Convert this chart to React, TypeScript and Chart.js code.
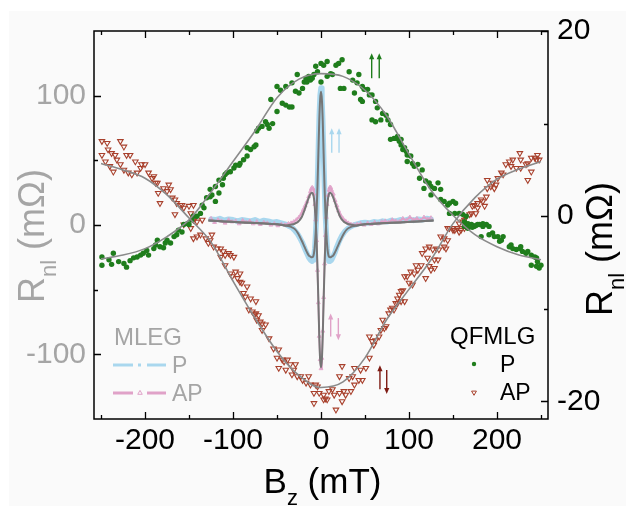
import React, { useEffect, useRef } from "react";
import { Chart, registerables } from "chart.js";

Chart.register(...registerables);

const FONT = "'Liberation Sans', Arial, sans-serif";

// ---------- QFMLG (right axis, mΩ) ----------
const qpB = [
  -249, -249, -241, -238, -236, -230, -224, -221, -217, -213, -209, -205, -202, -198, -196, -190, -188, -186, -183, -179,
  -177, -175, -171, -167, -164, -162, -158, -156, -152, -150, -147, -145, -141, -137, -135, -133, -130, -126, -126, -124,
  -120, -120, -116, -116, -112, -111, -109, -107, -103, -99, -97, -93, -92, -88, -84, -84, -80, -76, -74, -73,
  -71, -67, -63, -61, -59, -57, -55, -50, -50, -46, -44, -40, -40, -36, -33, -33, -29, -27, -25, -21,
  -19, -17, -16, -14, -12, -10, -8, -6, -4, 0, 0, 3, 7, 7, 11, 13, 17, 20, 22, 24,
  26, 32, 36, 38, 41, 43, 45, 47, 47, 49, 53, 55, 58, 58, 62, 62, 64, 68, 70, 74,
  76, 79, 79, 83, 85, 87, 89, 91, 91, 93, 95, 97, 98, 98, 102, 104, 106, 110, 112, 115,
  117, 119, 123, 125, 125, 129, 133, 136, 136, 140, 144, 146, 146, 150, 152, 153, 157, 161, 163, 165,
  167, 171, 174, 178, 184, 188, 191, 163, 167, 172, 176, 180, 182, 184, 191, 195, 197, 201, 203, 205,
  207, 214, 216, 218, 222, 226, 227, 229, 233, 235, 239, 239, 243, 245, 245, 246, 248, 250,
];
const qpR = [
  -4.4, -5.3, -4.7, -5.2, -4.0, -4.9, -5.1, -5.5, -4.8, -4.5, -4.4, -4.2, -4.0, -3.7, -4.2, -3.5, -3.1, -2.6, -3.3, -3.4,
  -2.9, -2.6, -2.9, -2.2, -2.0, -1.5, -1.7, -0.9, -0.8, -0.9, -0.4, 0.0, 0.0, 0.3, 1.2, 0.9, 2.0, 2.1, 2.9, 2.3,
  1.6, 3.2, 2.5, 3.9, 3.4, 4.1, 4.5, 4.7, 4.8, 5.2, 5.5, 5.5, 5.7, 6.1, 6.5, 7.4, 7.2, 7.5, 7.7, 9.2,
  9.5, 9.7, 10.2, 9.9, 9.5, 12.6, 10.0, 11.3, 14.0, 13.6, 12.2, 12.0, 14.0, 11.8, 11.8, 14.4, 13.5, 15.3, 13.3, 13.8,
  14.5, 14.9, 14.5, 15.1, 14.7, 14.9, 15.3, 16.2, 15.6, 16.5, 14.5, 16.3, 16.7, 15.1, 15.4, 15.3, 16.3, 16.5, 13.8, 16.9,
  13.8, 15.6, 14.7, 13.3, 14.4, 15.3, 12.6, 14.0, 12.4, 13.7, 13.7, 13.1, 13.1, 10.4, 12.4, 10.2, 11.7, 10.4, 11.1, 10.9,
  10.4, 9.9, 8.3, 8.4, 8.4, 8.6, 8.1, 8.3, 7.7, 7.2, 7.4, 7.0, 6.6, 5.9, 6.5, 5.7, 5.4, 5.6, 4.1, 5.0,
  3.0, 3.8, 3.6, 3.2, 2.3, 3.0, 3.6, 2.9, 1.8, 1.6, 1.2, 1.4, 0.3, 1.6, 0.3, 1.4, 0.3, 0.2, -0.6, 0.0,
  -0.8, -0.9, -1.1, -0.9, -0.8, -0.9, -1.1, -1.1, -1.3, -1.2, -1.0, -0.9, -2.2, -1.1, -2.0, -1.8, -2.2, -2.2, -2.7, -2.6,
  -2.2, -3.3, -3.1, -3.5, -3.6, -3.5, -3.3, -3.8, -4.0, -3.8, -4.2, -5.3, -4.4, -4.5, -5.4, -4.9, -5.6, -5.3,
];

const qapB = [
  -249, -243, -228, -224, -249, -245, -242, -238, -234, -232, -240, -236, -228, -221, -217, -224, -219, -215, -211, -209,
  -205, -204, -200, -196, -192, -190, -188, -186, -185, -183, -179, -175, -173, -171, -169, -166, -164, -160, -158, -166,
  -156, -150, -145, -148, -143, -135, -145, -141, -148, -156, -145, -141, -137, -131, -128, -124, -126, -122, -118, -114,
  -111, -109, -105, -103, -99, -114, -109, -103, -101, -97, -92, -95, -92, -90, -84, -88, -86, -80, -82, -78,
  -76, -74, -74, -71, -73, -69, -67, -63, -67, -59, -54, -48, -50, -44, -38, -42, -35, -29, -48, -40,
  -31, -33, -27, -23, -21, -14, -17, -12, -6, -4, -8, -2, 3, 5, 9, 13, 15, 3, 7, -8,
  21, 26, 34, 24, 17, 28, 38, 43, 47, 38, 45, 51, 24, 21, 32, 36, 55, 60, 58, 55,
  62, 66, 68, 72, 74, 70, 77, 79, 81, 85, 87, 89, 91, 93, 95, 83, 87, 91, 95, 100,
  98, 104, 102, 106, 110, 108, 114, 119, 123, 125, 129, 121, 129, 133, 115, 119, 123, 127, 131, 134,
  140, 142, 136, 140, 144, 146, 150, 152, 155, 157, 159, 163, 226, 227, 218, 214, 210, 216, 222, 227,
  233, 235, 239, 243, 246, 248, 245, 239, 235, 205, 207, 201, 189, 195, 193, 199, 197, 189, 188, 182,
  184, 178, 174, 172, 186, 178, 176, 171, 169, 163, 163, 161, 157, 155, 150, 144,
];
const qapR = [
  8.1, 7.9, 8.1, 7.5, 6.6, 5.9, 7.2, 6.8, 6.6, 6.1, 5.4, 4.8, 5.6, 6.6, 6.6, 5.0, 4.7, 4.5, 5.9, 4.7,
  5.2, 5.6, 5.6, 4.7, 4.1, 4.3, 3.6, 3.6, 2.5, 1.4, 3.0, 2.7, 3.4, 2.9, 2.0, 1.8, 1.4, 1.2, 1.2, 0.2,
  0.9, 1.1, 1.2, 0.3, -0.2, -0.4, -0.4, -0.6, -1.3, -0.9, -2.4, -2.2, -2.0, -2.4, -2.9, -2.0, -2.6, -3.3, -3.5, -3.5,
  -3.8, -4.2, -4.0, -4.2, -4.4, -4.4, -5.3, -6.2, -6.5, -6.0, -6.2, -6.7, -7.1, -7.2, -7.6, -8.3, -8.7, -8.9, -10.1, -10.3,
  -10.6, -9.2, -10.5, -10.7, -11.2, -11.4, -11.6, -11.7, -12.3, -13.2, -14.3, -14.4, -15.3, -15.5, -15.5, -15.7, -16.0, -16.0, -16.4, -16.6,
  -16.6, -17.1, -17.3, -17.3, -17.7, -17.3, -18.0, -18.2, -18.2, -18.4, -19.1, -19.1, -19.3, -19.7, -18.9, -18.7, -19.3, -19.8, -19.8, -20.2,
  -19.1, -18.9, -18.9, -20.0, -20.9, -19.3, -18.2, -17.7, -17.7, -16.4, -16.6, -16.4, -16.2, -17.3, -17.5, -17.3, -15.3, -13.9, -13.5, -13.0,
  -13.4, -13.0, -12.3, -12.1, -11.9, -11.2, -10.5, -10.1, -9.9, -9.4, -8.9, -8.5, -8.1, -8.0, -6.5, -10.1, -9.4, -9.2, -9.2, -7.2,
  -6.5, -7.4, -6.0, -6.2, -5.8, -5.3, -5.3, -6.7, -5.4, -5.8, -5.6, -4.5, -4.7, -4.7, -4.0, -3.5, -3.3, -3.6, -3.5, -3.6,
  -3.3, -3.5, -2.2, -2.4, -2.6, -1.3, -1.3, -1.5, -1.3, -1.7, -1.5, -1.3, 6.8, 6.1, 6.1, 5.9, 5.6, 5.4, 5.2, 5.2,
  5.6, 5.7, 6.3, 6.3, 6.6, 6.1, 6.1, 4.8, 3.9, 4.7, 4.5, 4.1, 3.9, 3.6, 3.2, 3.4, 3.0, 3.0, 2.1, 1.8,
  1.6, 1.4, 1.2, 1.1, 1.1, 0.9, 0.3, 0.3, 0.2, 0.0, -0.4, -0.6, -0.8, -1.3, -1.5, -1.3,
];

const qFitB = [-250, -225, -200, -175, -150, -125, -100, -75, -50, -25, 0, 25, 50, 75, 100, 125, 150, 175, 200, 225, 250];
const qFitP = [-4.6, -4.2, -3.5, -2.2, -0.4, 2.6, 5.9, 9.2, 12.8, 14.8, 15.4, 15.1, 13.6, 10.8, 6.7, 2.8, 0.1, -2.0, -3.3, -4.2, -4.7];
const qFitAP = [5.7, 5.0, 4.1, 2.3, -0.2, -2.8, -7.0, -11.0, -14.6, -17.2, -18.5, -17.9, -15.3, -11.1, -7.9, -4.7, -0.8, 2.0, 4.0, 5.1, 5.9];

// ---------- MLEG (left axis, mΩ) ----------
const mPB = [
  -125, -120, -115, -110, -105, -100, -95, -90, -85, -80, -75, -70, -65, -60, -55, -50, -45, -40,
  -36, -33, -30, -27, -24, -21, -18, -16, -14, -12, -10, -9, -8, -7, -6, -5, -4, -3, -2, -1,
  0, 1, 2, 3, 4, 5, 6, 7, 8, 9, 10,
  12, 14, 16, 18, 21, 24, 27, 30, 33, 36,
  40, 45, 50, 55, 60, 65, 70, 75, 80, 85, 90, 95, 100, 105, 110, 115, 120, 125,
];
const mP = [
  4.5, 4, 5, 3.5, 4.5, 4, 3, 4, 3.5, 3, 4, 2.5, 3.5, 3, 2, 2.5, 1.5, 0.5,
  -1, -2, -4, -6.5, -10, -14, -19, -22, -25, -27, -28, -27, -24, -18, -6, 10, 32, 58, 84, 100,
  106, 98, 80, 54, 28, 8, -6, -18, -25, -28, -28,
  -27, -24, -21, -17, -12, -8, -5, -3, -1.5, -0.5,
  0.5, 1.5, 2, 1.5, 2.5, 2, 3, 2.5, 3.5, 3, 4, 3.5, 4.5, 3.5, 4.5, 4, 5, 4.5,
];
const mAPB = [
  -125, -121, -117, -113, -109, -105, -101, -97, -93, -89, -85, -81, -77, -73, -69, -65, -61, -57, -53, -49, -45, -41, -37,
  -34, -31, -28, -25, -22, -20, -18, -16, -14, -12,
  -11, -10, -9, -8, -7, -6, -5, -4, -3, -2, -1, 0,
  1, 2, 3, 4, 5, 6, 7, 8, 9, 10, 11, 12,
  14, 16, 18, 20, 22, 25, 28, 31, 34, 37,
  41, 45, 49, 53, 57, 61, 65, 69, 73, 77, 81, 85, 89, 93, 97, 101, 105, 109, 113, 117, 121, 125,
];
const mAP = [
  5, 2, 4, 3, 1.5, 4, 2.5, 3, 1, 3.5, 2, 3, 1, 2.5, 0.5, 2, 1.5, 0, 1, -0.5, 0.5, 0, 1,
  1.5, 2.5, 4, 6, 9, 12, 15, 18, 22, 26,
  28, 29, 28, 24, 16, 4, -12, -35, -60, -86, -104, -111,
  -103, -82, -56, -30, -8, 6, 16, 23, 27, 29, 29, 27,
  24, 19, 15, 11, 8, 5, 3, 1.5, 0.5, 0,
  0.5, 1, 0, 1.5, 0.5, 2, 1, 2.5, 3, 2, 4, 3, 2.5, 5, 3.5, 6, 4, 5, 3.5, 6, 4.5, 5.5,
];

const mFitB = [
  -128, -110, -90, -70, -50, -40, -34, -30, -26, -22, -19, -16, -14, -12, -10.5, -9, -8, -7, -6, -5, -4, -3, -2, -1,
  0, 1, 2, 3, 4, 5, 6, 7, 8, 9, 10.5, 12, 14, 16, 19, 22, 26, 30, 34, 40, 50, 70, 90, 110, 128,
];
const mFitP = [
  3.5, 2.8, 2.0, 1.3, 0.5, -0.5, -1.5, -3, -6.5, -12, -16.5, -21, -23.5, -24.5, -25, -24.5, -22, -16, -5, 10, 30, 55, 80, 97,
  103, 97, 80, 55, 30, 10, -5, -16, -22, -24.5, -25, -24.5, -23.5, -21, -16.5, -12, -6.5, -3, -1.5, -0.5, 0.5, 1.3, 2.0, 2.8, 3.5,
];
const mFitAP = [
  3.5, 2.8, 2.0, 1.3, 0.5, -0.3, 0.3, 1, 2.5, 6, 11, 17, 21, 24, 25, 24, 20.5, 13, 3, -12, -33, -58, -85, -104,
  -110, -104, -85, -58, -33, -12, 3, 13, 20.5, 24, 25, 24, 21, 17, 11, 6, 2.5, 1, 0.3, -0.3, 0.5, 1.3, 2.0, 2.8, 3.5,
];

const xTicks = [-200, -100, 0, 100, 200];
const xMinorTicks = [-250, -150, -50, 50, 150, 250];
const leftTicks = [-100, 0, 100];
const leftMinorTicks = [-50, 50];
const rightTicks = [-20, 0, 20];
const rightMinorTicks = [-10, 10];

const GREEN = "#1f7d1c";
const RED = "#a8402c";
const LBLUE = "#a9d7ee";
const PINK = "#e0a2c8";
const DRED = "#7d1a12";
const GREY_TXT = "#a5a5a5";

// annotation arrows in data units (x: B, y: right axis)
const arrows = [
  { x: 57.6, top: 17.6, bot: 14.9, dir: "up", color: GREEN },
  { x: 66.2, top: 17.6, bot: 14.9, dir: "up", color: GREEN },
  { x: 12.2, top: 9.5, bot: 6.85, dir: "up", color: LBLUE },
  { x: 20.5, top: 9.5, bot: 6.85, dir: "up", color: LBLUE },
  { x: 11.0, top: -10.5, bot: -13.0, dir: "up", color: PINK },
  { x: 19.7, top: -11.0, bot: -13.4, dir: "down", color: PINK },
  { x: 67.0, top: -16.1, bot: -18.7, dir: "up", color: DRED },
  { x: 74.7, top: -16.6, bot: -19.2, dir: "down", color: DRED },
];

const zip = (xs: number[], ys: number[]) => xs.map((x, i) => ({ x, y: ys[i] }));

function drawRich(
  ctx: CanvasRenderingContext2D,
  parts: { t: string; size: number; dy?: number }[],
  cx: number,
  cy: number,
  rot: number,
  color: string
) {
  ctx.save();
  ctx.translate(cx, cy);
  ctx.rotate(rot);
  ctx.fillStyle = color;
  ctx.textBaseline = "alphabetic";
  ctx.textAlign = "left";
  let total = 0;
  for (const p of parts) {
    ctx.font = `${p.size}px ${FONT}`;
    total += ctx.measureText(p.t).width;
  }
  let x = -total / 2;
  for (const p of parts) {
    ctx.font = `${p.size}px ${FONT}`;
    ctx.fillText(p.t, x, p.dy || 0);
    x += ctx.measureText(p.t).width;
  }
  ctx.restore();
}

function tri(ctx: CanvasRenderingContext2D, x: number, y: number, r: number, down: boolean) {
  const s = down ? -1 : 1;
  ctx.beginPath();
  ctx.moveTo(x, y - s * r);
  ctx.lineTo(x + r * 0.866, y + s * r * 0.5);
  ctx.lineTo(x - r * 0.866, y + s * r * 0.5);
  ctx.closePath();
}

function drawArrow(ctx: CanvasRenderingContext2D, x: number, yTop: number, yBot: number, up: boolean, color: string) {
  const hl = 6;
  const hw = 2.6;
  ctx.save();
  ctx.strokeStyle = color;
  ctx.fillStyle = color;
  ctx.lineWidth = 1.4;
  ctx.beginPath();
  if (up) {
    ctx.moveTo(x, yBot);
    ctx.lineTo(x, yTop + hl - 1);
  } else {
    ctx.moveTo(x, yTop);
    ctx.lineTo(x, yBot - hl + 1);
  }
  ctx.stroke();
  ctx.beginPath();
  if (up) {
    ctx.moveTo(x, yTop);
    ctx.lineTo(x + hw, yTop + hl);
    ctx.lineTo(x - hw, yTop + hl);
  } else {
    ctx.moveTo(x, yBot);
    ctx.lineTo(x + hw, yBot - hl);
    ctx.lineTo(x - hw, yBot - hl);
  }
  ctx.closePath();
  ctx.fill();
  ctx.restore();
}

const bgPlugin = {
  id: "bgPlugin",
  beforeDraw(chart: any) {
    const ctx = chart.ctx as CanvasRenderingContext2D;
    ctx.save();
    ctx.fillStyle = "#ffffff";
    ctx.fillRect(0, 0, chart.width, chart.height);
    ctx.fillStyle = "#fafafa";
    ctx.fillRect(9, 11, chart.width - 9, chart.height - 11);
    ctx.restore();
  },
};

const decoPlugin = {
  id: "decoPlugin",
  afterDraw(chart: any) {
    const ctx = chart.ctx as CanvasRenderingContext2D;
    const { left, right, top, bottom } = chart.chartArea;
    const sx = chart.scales.x;
    const sl = chart.scales.yL;
    const sr = chart.scales.yR;
    ctx.save();
    // frame
    ctx.strokeStyle = "#000";
    ctx.lineWidth = 1.5;
    ctx.strokeRect(left, top, right - left, bottom - top);
    // ticks (inward)
    ctx.lineWidth = 1.3;
    ctx.beginPath();
    const xt = (v: number, len: number) => {
      const p = Math.round(sx.getPixelForValue(v)) + 0.5;
      ctx.moveTo(p, bottom);
      ctx.lineTo(p, bottom - len);
      ctx.moveTo(p, top);
      ctx.lineTo(p, top + len);
    };
    xTicks.forEach((v) => xt(v, 7));
    xMinorTicks.forEach((v) => xt(v, 4));
    const lt = (v: number, len: number) => {
      const p = Math.round(sl.getPixelForValue(v)) + 0.5;
      ctx.moveTo(left, p);
      ctx.lineTo(left + len, p);
    };
    leftTicks.forEach((v) => lt(v, 7));
    leftMinorTicks.forEach((v) => lt(v, 4));
    const rt = (v: number, len: number) => {
      const p = Math.round(sr.getPixelForValue(v)) + 0.5;
      ctx.moveTo(right, p);
      ctx.lineTo(right - len, p);
    };
    rightTicks.forEach((v) => rt(v, 7));
    rightMinorTicks.forEach((v) => rt(v, 4));
    ctx.stroke();

    // arrows
    arrows.forEach((a) => {
      const x = sx.getPixelForValue(a.x);
      drawArrow(ctx, x, sr.getPixelForValue(a.top), sr.getPixelForValue(a.bot), a.dir === "up", a.color);
    });

    // axis titles
    drawRich(ctx, [{ t: "R", size: 36 }, { t: "nl", size: 22, dy: 12 }, { t: " (mΩ)", size: 36 }], 44, 236, -Math.PI / 2, GREY_TXT);
    drawRich(ctx, [{ t: "R", size: 36 }, { t: "nl", size: 22, dy: 12 }, { t: " (mΩ)", size: 36 }], 612, 249, -Math.PI / 2, "#000");
    drawRich(ctx, [{ t: "B", size: 35 }, { t: "z", size: 22, dy: 12 }, { t: " (mT)", size: 35 }], 322.5, 493, 0, "#000");

    // MLEG legend
    ctx.textBaseline = "alphabetic";
    ctx.textAlign = "left";
    ctx.fillStyle = GREY_TXT;
    ctx.font = `24px ${FONT}`;
    ctx.fillText("MLEG", 114, 345);
    ctx.font = `23px ${FONT}`;
    ctx.fillText("P", 172, 373);
    ctx.fillText("AP", 172, 401);
    ctx.lineWidth = 3;
    ctx.strokeStyle = LBLUE;
    ctx.beginPath();
    ctx.moveTo(113, 365); ctx.lineTo(133, 365);
    ctx.moveTo(138, 365); ctx.lineTo(141, 365);
    ctx.moveTo(147, 365); ctx.lineTo(166, 365);
    ctx.stroke();
    ctx.strokeStyle = PINK;
    ctx.beginPath();
    ctx.moveTo(113, 393); ctx.lineTo(133, 393);
    ctx.moveTo(147, 393); ctx.lineTo(166, 393);
    ctx.stroke();
    ctx.lineWidth = 1;
    tri(ctx, 140, 393, 2.6, false);
    ctx.stroke();

    // QFMLG legend
    ctx.fillStyle = "#000";
    ctx.font = `24px ${FONT}`;
    ctx.fillText("QFMLG", 450, 344);
    ctx.font = `23px ${FONT}`;
    ctx.fillText("P", 500, 371.5);
    ctx.fillText("AP", 500, 399.5);
    ctx.fillStyle = GREEN;
    ctx.beginPath();
    ctx.arc(474, 364, 2.2, 0, Math.PI * 2);
    ctx.fill();
    ctx.strokeStyle = RED;
    ctx.lineWidth = 1;
    tri(ctx, 474, 392.5, 2.8, true);
    ctx.stroke();
    ctx.restore();
  },
};

export default function App() {
  const ref = useRef<HTMLCanvasElement | null>(null);
  useEffect(() => {
    if (!ref.current) return;
    const tickFont = { family: FONT, size: 30 };
    const chart = new Chart(ref.current, {
      type: "scatter",
      data: {
        datasets: [
          {
            label: "MLEG fit P",
            data: zip(mFitB, mFitP),
            xAxisID: "x",
            yAxisID: "yL",
            showLine: true,
            borderColor: "#767676",
            borderWidth: 2,
            pointRadius: 0,
            cubicInterpolationMode: "monotone",
            order: 1,
          },
          {
            label: "MLEG fit AP",
            data: zip(mFitB, mFitAP),
            xAxisID: "x",
            yAxisID: "yL",
            showLine: true,
            borderColor: "#767676",
            borderWidth: 2,
            pointRadius: 0,
            cubicInterpolationMode: "monotone",
            order: 1,
          },
          {
            label: "MLEG AP",
            data: zip(mAPB, mAP),
            xAxisID: "x",
            yAxisID: "yL",
            showLine: true,
            borderColor: PINK,
            borderWidth: 1.8,
            pointStyle: "triangle",
            pointRadius: 2.2,
            pointBorderWidth: 0.9,
            pointBorderColor: PINK,
            pointBackgroundColor: "rgba(0,0,0,0)",
            order: 2,
          },
          {
            label: "MLEG P",
            data: zip(mPB, mP),
            xAxisID: "x",
            yAxisID: "yL",
            showLine: true,
            borderColor: LBLUE,
            borderWidth: 5.5,
            borderJoinStyle: "round",
            borderCapStyle: "round",
            pointRadius: 0,
            order: 3,
          },
          {
            label: "QFMLG fit P",
            data: zip(qFitB, qFitP),
            xAxisID: "x",
            yAxisID: "yR",
            showLine: true,
            borderColor: "#8a8a8a",
            borderWidth: 1.6,
            pointRadius: 0,
            cubicInterpolationMode: "monotone",
            order: 4,
          },
          {
            label: "QFMLG fit AP",
            data: zip(qFitB, qFitAP),
            xAxisID: "x",
            yAxisID: "yR",
            showLine: true,
            borderColor: "#8a8a8a",
            borderWidth: 1.6,
            pointRadius: 0,
            cubicInterpolationMode: "monotone",
            order: 4,
          },
          {
            label: "QFMLG P",
            data: zip(qpB, qpR),
            xAxisID: "x",
            yAxisID: "yR",
            showLine: false,
            pointStyle: "circle",
            pointRadius: 2.7,
            pointBorderWidth: 0,
            pointBackgroundColor: GREEN,
            order: 5,
          },
          {
            label: "QFMLG AP",
            data: zip(qapB, qapR),
            xAxisID: "x",
            yAxisID: "yR",
            showLine: false,
            pointStyle: "triangle",
            pointRotation: 180,
            pointRadius: 3.2,
            pointBorderWidth: 1.1,
            pointBorderColor: RED,
            pointBackgroundColor: "rgba(0,0,0,0)",
            order: 6,
          },
        ],
      },
      options: {
        animation: false,
        responsive: false,
        devicePixelRatio: 1,
        layout: { padding: { top: 31, left: 0, right: 0, bottom: 0 } },
        plugins: { legend: { display: false }, tooltip: { enabled: false }, title: { display: false } },
        scales: {
          x: {
            type: "linear",
            position: "bottom",
            min: -258,
            max: 258,
            grid: { display: false, drawTicks: false },
            border: { display: false },
            ticks: { font: tickFont, color: "#000", padding: 4 },
            afterBuildTicks: (s: any) => {
              s.ticks = xTicks.map((v) => ({ value: v }));
            },
            afterFit: (s: any) => {
              s.height = 87;
            },
          },
          yL: {
            type: "linear",
            position: "left",
            min: -150,
            max: 150,
            grid: { display: false, drawTicks: false },
            border: { display: false },
            ticks: { font: tickFont, color: GREY_TXT, padding: 8 },
            afterBuildTicks: (s: any) => {
              s.ticks = leftTicks.map((v) => ({ value: v }));
            },
            afterFit: (s: any) => {
              s.width = 94;
            },
          },
          yR: {
            type: "linear",
            position: "right",
            min: -21.9,
            max: 20,
            grid: { display: false, drawTicks: false },
            border: { display: false },
            ticks: { font: tickFont, color: "#000", padding: 9 },
            afterBuildTicks: (s: any) => {
              s.ticks = rightTicks.map((v) => ({ value: v }));
            },
            afterFit: (s: any) => {
              s.width = 78;
            },
          },
        },
      } as any,
      plugins: [bgPlugin, decoPlugin],
    });
    return () => chart.destroy();
  }, []);
  return (
    <div style={{ position: "fixed", left: 0, top: 0, width: 626, height: 506 }}>
      <canvas ref={ref} width={626} height={506} style={{ width: 626, height: 506, display: "block" }} />
    </div>
  );
}
